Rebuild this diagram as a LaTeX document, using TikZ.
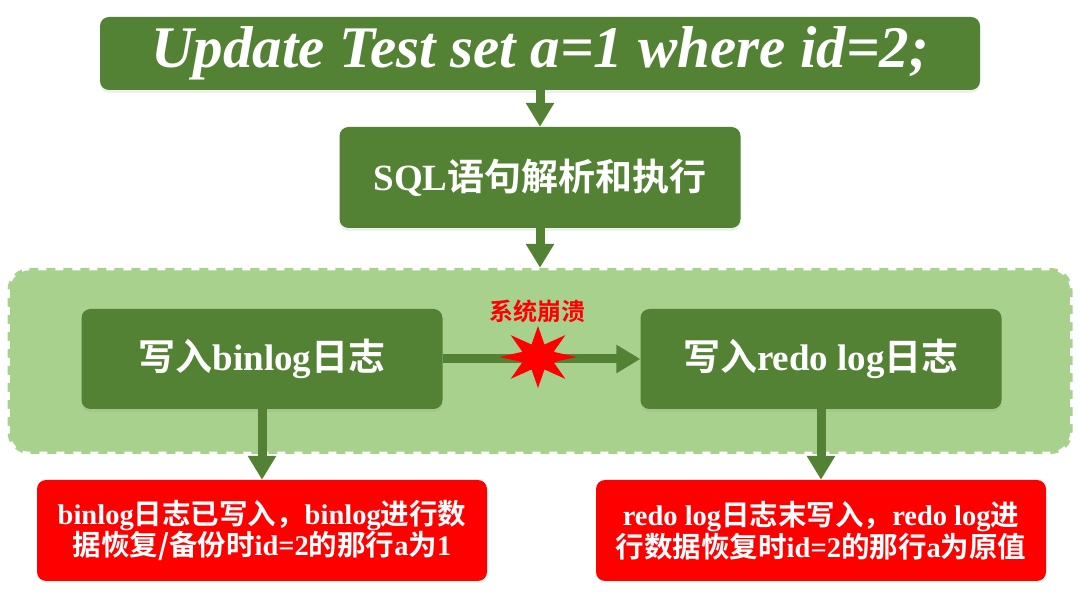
\documentclass[tikz,border=0pt]{standalone}
\usepackage{fontspec}
\setmainfont{Liberation Serif}
\newfontfamily\cjk{Noto Sans CJK SC}[BoldFont={Noto Sans CJK SC Bold}]
\usetikzlibrary{arrows.meta,shapes.geometric,shadows}
\definecolor{dkgreen}{HTML}{548235}
\definecolor{ltgreen}{HTML}{A9D18E}
\definecolor{myred}{HTML}{FF0000}
\newcommand\zh[1]{{\cjk\bfseries #1}}
\begin{document}
\begin{tikzpicture}[x=1pt,y=-1pt,
  gbox/.style={fill=dkgreen, rounded corners=9pt, text=white, font=\bfseries, inner sep=0pt, align=center,
    drop shadow={shadow xshift=0pt, shadow yshift=-3pt, opacity=0.12}},
  rbox/.style={fill=myred, rounded corners=9pt, text=white, font=\bfseries, inner sep=0pt, align=center,
    minimum width=450pt, minimum height=101pt},
  arr/.style={draw=dkgreen, line width=9pt, -{Triangle[width=27pt,length=24pt]}},
]
\useasboundingbox (0,0) rectangle (1080,593);

\node[gbox, minimum width=880pt, minimum height=73pt] (top) at (540,53.5)
  {\fontsize{59}{66}\selectfont\itshape Update Test set a=1 where id=2;};
\node[gbox, minimum width=401pt, minimum height=101pt] (sql) at (540,177.5)
  {\fontsize{37}{42}\selectfont SQL\zh{语句解析和执行}};

\node[fill=ltgreen, rounded corners=22pt, minimum width=1065pt, minimum height=186pt, inner sep=0pt] (grp) at (540,361) {};
\draw[white, line width=5pt, dash pattern=on 8pt off 9pt, rounded corners=22pt]
  (grp.north west) rectangle (grp.south east);

\node[gbox, minimum width=361pt, minimum height=100pt] (bin) at (262,359)
  {\fontsize{37}{44}\selectfont\zh{写入}binlog\zh{日志}};
\node[gbox, minimum width=361pt, minimum height=100pt] (redo) at (821,359)
  {\fontsize{37}{44}\selectfont\zh{写入}redo log\zh{日志}};

\node[rbox] (rl) at (262,530.5)
  {\fontsize{28.5}{35}\selectfont binlog\zh{日志已写入，}binlog\zh{进行数}\\
   \fontsize{28.5}{35}\selectfont\zh{据恢复/备份时}id=2\zh{的那行}a\zh{为}1};
\node[rbox] (rr) at (821,530.5)
  {\fontsize{28.5}{35}\selectfont redo log\zh{日志末写入，}redo log\zh{进}\\
   \fontsize{28.5}{35}\selectfont\zh{行数据恢复时}id=2\zh{的那行}a\zh{为原值}};

\draw[arr] (top.south) -- (sql.north);
\draw[arr] (sql.south) -- (grp.north);
\draw[arr] (bin.east) -- (redo.west);
\draw[arr] (bin.south) -- (rl.north);
\draw[arr] (redo.south) -- (rr.north);

\node[star, star points=8, star point ratio=2.3, minimum size=62pt, inner sep=0pt, fill=myred,
  xscale=1.25, transform shape] (crash) at (538,357) {};
\node[text=myred, inner sep=0pt] (crashlbl) at (537,311)
  {\fontsize{24}{28}\selectfont\zh{系统崩溃}};
\end{tikzpicture}
\end{document}
